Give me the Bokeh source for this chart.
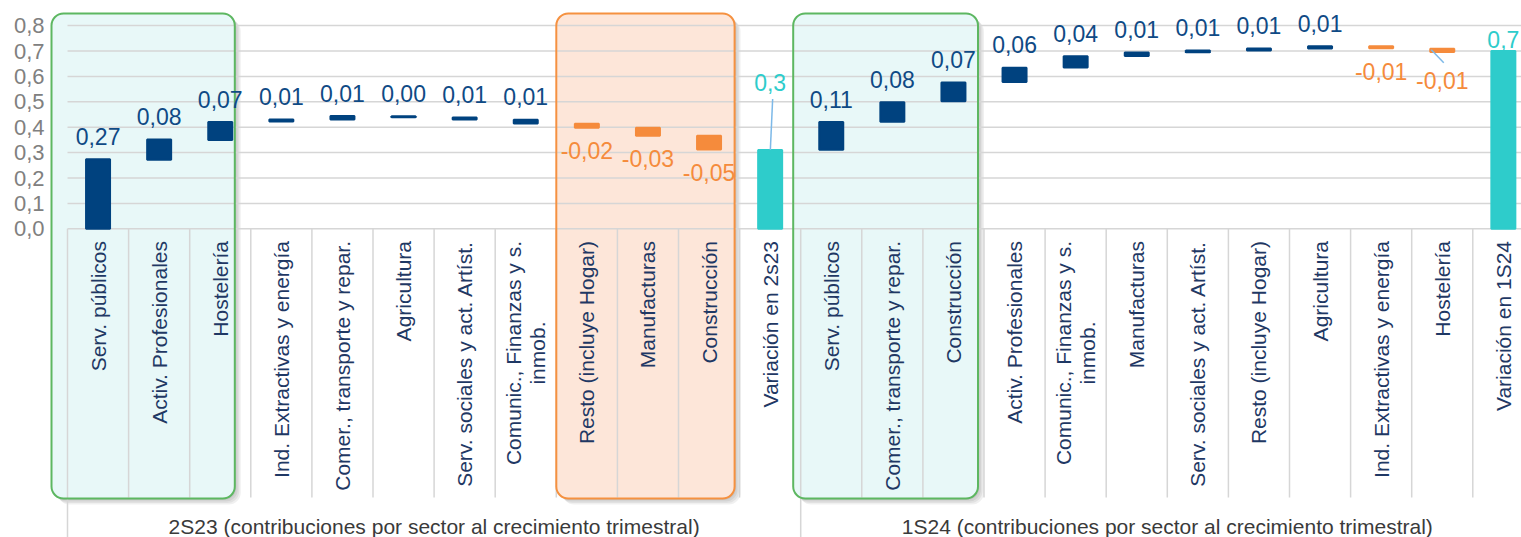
import math

from bokeh.core.properties import value
from bokeh.embed import file_html
from bokeh.models import ColumnDataSource, CustomJSTickFormatter, FixedTicker
from bokeh.plotting import figure
from bokeh.resources import INLINE

# ---------------------------------------------------------------- data
sectors_2s23 = [
    "Serv. públicos", "Activ. Profesionales", "Hostelería",
    "Ind. Extractivas y energía", "Comer., transporte y repar.", "Agricultura",
    "Serv. sociales y act. Artíst.", "Comunic., Finanzas y s.\ninmob.",
    "Resto (incluye Hogar)", "Manufacturas", "Construcción", "Variación en 2s23",
]
# level where each floating bar begins, and the sector contribution
start_2s23 = [0.0, 0.272, 0.350, 0.422, 0.430, 0.439, 0.430, 0.415, 0.414, 0.398, 0.366, 0.0]
delta_2s23 = [0.274, 0.080, 0.070, 0.008, 0.014, 0.004, 0.008, 0.014, -0.016, -0.032, -0.054, 0.310]

sectors_1s24 = [
    "Serv. públicos", "Comer., transporte y repar.", "Construcción",
    "Activ. Profesionales", "Comunic., Finanzas y s.\ninmob.", "Manufacturas",
    "Serv. sociales y act. Artíst.", "Resto (incluye Hogar)", "Agricultura",
    "Ind. Extractivas y energía", "Hostelería", "Variación en 1S24",
]
start_1s24 = [0.311, 0.421, 0.502, 0.578, 0.635, 0.680, 0.695, 0.702, 0.710, 0.719, 0.709, 0.0]
delta_1s24 = [0.109, 0.077, 0.074, 0.056, 0.044, 0.014, 0.007, 0.008, 0.009, -0.008, -0.013, 0.700]

group_titles = [
    "2S23 (contribuciones por sector al crecimiento trimestral)",
    "1S24 (contribuciones por sector al crecimiento trimestral)",
]
y_ticks = [0.0, 0.1, 0.2, 0.3, 0.4, 0.5, 0.6, 0.7, 0.8]

# ---------------------------------------------------------------- layout
W, H = 1521, 537
FRAME_LEFT = 48
CAT_PX = 61.1        # pixels per category slot
UNIT_PX = 254.0      # pixels per 1.0 on the value axis
ZERO_PX = 228.3      # distance of the zero line from the top

BLUE = "#00427F"
BLUE_TXT = "#0F4A85"
ORANGE = "#F58B3C"
TEAL = "#2ECCCB"
GRID = "#D6D6D6"
CAT_TXT = "#1F3864"
FONT = "Liberation Sans"


def dx(px):
    return px / CAT_PX


def dy(px):
    return px / UNIT_PX


x_start = -0.5 - dx(67 - FRAME_LEFT)
x_end = x_start + dx(W - FRAME_LEFT)
y_end = dy(ZERO_PX)
y_start = -dy(H - ZERO_PX)

sectors = sectors_2s23 + sectors_1s24
starts = start_2s23 + start_1s24
deltas = delta_2s23 + delta_1s24
n1 = len(sectors_2s23)
n = len(sectors)
total_idx = {n1 - 1, n - 1}
xs = list(range(n))

kinds = []
for i, d in enumerate(deltas):
    if i in total_idx:
        kinds.append("total")
    elif d >= 0:
        kinds.append("pos")
    else:
        kinds.append("neg")

p = figure(
    width=W, height=H,
    x_range=(x_start, x_end), y_range=(y_start, y_end),
    output_backend="svg", toolbar_location=None,
    x_axis_location=None,
    min_border_left=FRAME_LEFT, min_border_right=0,
    min_border_top=0, min_border_bottom=0,
)
p.outline_line_color = None
p.background_fill_color = "white"
p.xgrid.visible = False
p.ygrid.visible = False

ax = p.yaxis[0]
ax.ticker = FixedTicker(ticks=y_ticks)
ax.formatter = CustomJSTickFormatter(code="return tick.toFixed(1).replace('.', ',');")
ax.axis_line_color = None
ax.major_tick_line_color = None
ax.minor_tick_line_color = None
ax.major_tick_out = 0
ax.major_label_standoff = 4
ax.major_label_text_font = FONT
ax.major_label_text_font_size = "22px"
ax.major_label_text_color = "#808080"

# highlighted sector groups: (first, last, border, fill, left px, right px)
highlights = [
    (0, 2, "#5DB761", "#E8F8F8", -16, -16),
    (8, 10, "#F59140", "#FDE6D9", 0, -5),
    (12, 14, "#5DB761", "#E8F8F8", -7.5, -6),
]
box_top = dy(ZERO_PX - 13)
box_bottom = -dy(498 - ZERO_PX)
box_l = [a - 0.5 + dx(lp) for a, b, c, f, lp, rp in highlights]
box_r = [b + 0.5 + dx(rp) for a, b, c, f, lp, rp in highlights]
box_line = [c for a, b, c, f, lp, rp in highlights]
box_fill = [f for a, b, c, f, lp, rp in highlights]

# soft drop shadow
for off in (1.5, 3.0, 4.5, 6.0):
    p.quad(left=[v + dx(off) for v in box_l], right=[v + dx(off) for v in box_r],
           top=[box_top - dy(off)] * 3, bottom=[box_bottom - dy(off)] * 3,
           fill_color="#000000", fill_alpha=0.06, line_color=None, border_radius=12)

p.quad(left=box_l, right=box_r, top=[box_top] * 3, bottom=[box_bottom] * 3,
       fill_color=box_fill, line_color=None, border_radius=12)

# horizontal gridlines (zero line included)
p.segment(x0=[-0.5] * len(y_ticks), x1=[x_end + 1] * len(y_ticks),
          y0=y_ticks, y1=y_ticks, line_color=GRID, line_width=1.5)

# category separators below the axis; group separators run to the bottom
sep_x = [k - 0.5 for k in range(n + 1)]
sep_bottom = [y_start if k in (0, n1) else -dy(497 - ZERO_PX) for k in range(n + 1)]
p.segment(x0=sep_x, x1=sep_x, y0=[0] * len(sep_x), y1=sep_bottom,
          line_color=GRID, line_width=1.5)

p.quad(left=box_l, right=box_r, top=[box_top] * 3, bottom=[box_bottom] * 3,
       fill_color=None, line_color=box_line, line_width=2, border_radius=12)

# floating bars
bar_w = dx(24)
color_of = {"pos": BLUE, "neg": ORANGE, "total": TEAL}
bottoms, tops = [], []
for s, d, k in zip(starts, deltas, kinds):
    if k == "neg":
        tops.append(s)
        bottoms.append(s + d)
    else:
        bottoms.append(s)
        tops.append(s + d)
bars = ColumnDataSource(dict(
    left=[x - bar_w / 2 for x in xs], right=[x + bar_w / 2 for x in xs],
    bottom=bottoms, top=tops, color=[color_of[k] for k in kinds],
))
p.quad(left="left", right="right", bottom="bottom", top="top", source=bars,
       fill_color="color", line_color="color", line_width=2)

# value labels
label_shift = {n1 - 1: -68, 22: 28, n - 1: -12}
lab_x, lab_y, lab_t, lab_c = [], [], [], []
for i, (d, k) in enumerate(zip(deltas, kinds)):
    if k == "total":
        txt = f"{d:.1f}".replace(".", ",")
        base = tops[i]
        off = label_shift.get(i, -22)
        col = TEAL
    elif k == "pos":
        txt = f"{d:.2f}".replace(".", ",")
        base = tops[i]
        off = label_shift.get(i, -23)
        col = BLUE_TXT
    else:
        txt = f"{d:.2f}".replace(".", ",")
        base = bottoms[i]
        off = label_shift.get(i, 23)
        col = ORANGE
    lab_x.append(i)
    lab_y.append(base - dy(off))
    lab_t.append(txt)
    lab_c.append(col)
p.text(x=lab_x, y=lab_y, text=lab_t, text_color=lab_c,
       text_font=value(FONT), text_font_size="23px",
       text_align="center", text_baseline="middle")

# leader lines for the moved labels
lead_x0 = [n1 - 1 + dx(0.2), 22 - dx(11)]
lead_y0 = [tops[n1 - 1], tops[22] - dy(1)]
lead_x1 = [n1 - 1 + dx(2.5), 22 + dx(1.5)]
lead_y1 = [lab_y[n1 - 1] - dy(17), tops[22] - dy(14)]
p.segment(x0=lead_x0, y0=lead_y0, x1=lead_x1, y1=lead_y1,
          line_color="#7DB9E8", line_width=1.5)

# category labels, rotated; two-line labels are centred on their first line
ARIAL = {
    " ": 278, ",": 278, ".": 278, "C": 722, "F": 611, "a": 556, "c": 500,
    "i": 222, "m": 833, "n": 556, "o": 556, "s": 500, "u": 556, "y": 500, "z": 500,
}


def text_px(s, size):
    return sum(ARIAL.get(ch, 556) for ch in s) / 1000 * size


CAT_SIZE = 21
cat_top = -dy(12.2)
one_x, one_y, one_t = [], [], []
two_x, two_y, two_t = [], [], []
for i, name in enumerate(sectors):
    lines = name.split("\n")
    if len(lines) == 1:
        one_x.append(i)
        one_y.append(cat_top)
        one_t.append(name)
    else:
        mid = cat_top - dy(text_px(lines[0], CAT_SIZE) / 2)
        gap = dx(12)
        for j, line in enumerate(lines):
            two_x.append(i - gap + 2 * gap * j)
            two_y.append(mid)
            two_t.append(line)

p.text(x=one_x, y=one_y, text=one_t, angle=math.pi / 2,
       text_color=CAT_TXT, text_font=value(FONT), text_font_size=f"{CAT_SIZE}px",
       text_align="right", text_baseline="middle")
p.text(x=two_x, y=two_y, text=two_t, angle=math.pi / 2,
       text_color=CAT_TXT, text_font=value(FONT), text_font_size=f"{CAT_SIZE}px",
       text_align="center", text_baseline="middle")

# group titles under each half
grp_x = [(n1 - 1) / 2, n1 + (n - n1 - 1) / 2]
p.text(x=grp_x, y=[-dy(525.5 - ZERO_PX)] * 2, text=group_titles,
       text_color="#3A3A3A", text_font=value(FONT), text_font_size="21px",
       text_align="center", text_baseline="middle")

open("out.html", "w").write(file_html(p, INLINE))
